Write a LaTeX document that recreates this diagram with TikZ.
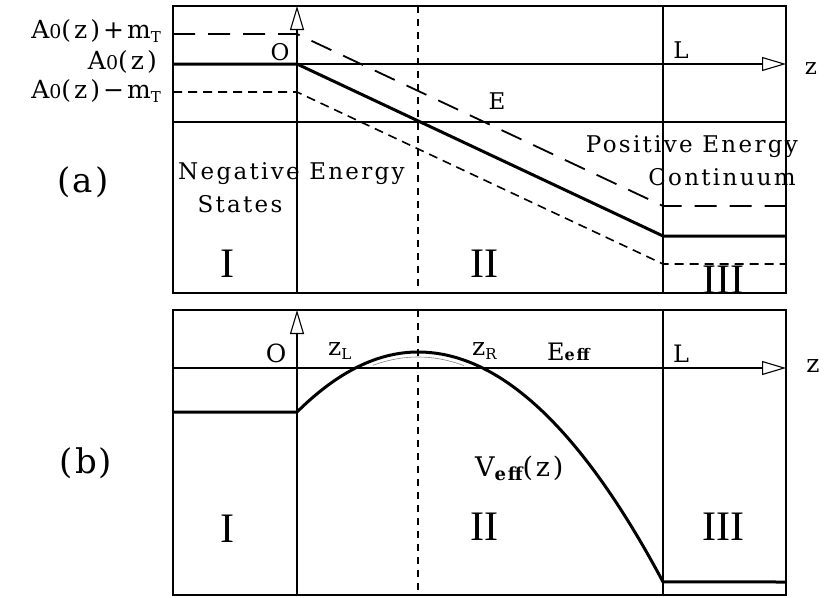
\documentclass[tikz,border=0pt]{standalone}
\usepackage{fontspec}
\setmainfont{DejaVu Serif}[LetterSpace=10]
\newfontfamily\numfont{Liberation Serif}
\usetikzlibrary{arrows.meta}
\newcommand{\Azero}{A{\fontsize{19}{19}\selectfont 0}}
\newcommand{\mysub}[1]{\raisebox{-4pt}{\fontsize{15}{15}\selectfont #1}}
\begin{document}
\begin{tikzpicture}[x=1pt,y=-1pt,
  frame/.style={line width=1.1pt},
  thickline/.style={line width=3pt},
  longdash/.style={line width=1.8pt, dash pattern=on 22pt off 13pt},
  shortdash/.style={line width=1.6pt, dash pattern=on 9pt off 6pt},
  midline/.style={line width=1.4pt, dash pattern=on 7pt off 6pt},
  axisarrow/.style={line width=1.1pt, -{Triangle[open,length=24pt,width=14pt,line width=1.1pt]}},
  lbl/.style={font=\fontsize{23}{26}\selectfont, inner sep=0pt},
  side/.style={font=\fontsize{25}{28}\selectfont\addfontfeature{LetterSpace=12}, inner sep=0pt},
  big/.style={font=\fontsize{34}{36}\selectfont\addfontfeature{LetterSpace=6}, inner sep=0pt},
  roman/.style={font=\numfont\fontsize{42}{44}\selectfont, inner sep=0pt},
]
\useasboundingbox (0,0) rectangle (832,597);
% ---------- panel (a) ----------
\coordinate (aTL) at (173,6);
\coordinate (aBR) at (786,293);
\draw[frame] (aTL) rectangle (aBR);
\coordinate (aAx0) at (297,293);
\coordinate (aAx1) at (297,6);
\draw[axisarrow] (aAx0) -- (aAx1);
\coordinate (aZ0) at (173,64);
\coordinate (aZ1) at (786,64);
\draw[axisarrow] (aZ0) -- (aZ1);
\draw[frame] (173,122) -- (786,122);
\draw[frame] (663,6) -- (663,293);
\draw[midline] (418,6) -- (418,293);
\draw[longdash] (173,34) -- (297,34) -- (663,206) -- (786,206);
\draw[shortdash] (173,92) -- (297,92) -- (663,264) -- (786,264);
\draw[thickline] (173,64) -- (297,64) -- (663,236) -- (786,236);

\node[side, anchor=base east] (t1) at (161,38) {\Azero(z)+m\mysub{T}};
\node[side, anchor=base east] (t2) at (157,69) {\Azero(z)};
\node[side, anchor=base east] (t3) at (161,98) {\Azero(z)−m\mysub{T}};
\node[lbl, anchor=base] (o1) at (280,60) {O};
\node[lbl, anchor=base] (L1) at (681,58) {L};
\node[lbl, anchor=base] (z1) at (811,74) {z};
\node[lbl, anchor=base] (E1) at (497,109) {E};
\node[big] (pa) at (83,182) {(a)};
\node[lbl, anchor=base west] (neg) at (178,179) {Negative Energy};
\node[lbl, anchor=base] (states) at (240,212) {States};
\node[lbl, anchor=base east] (pos) at (798,152) {Positive Energy};
\node[lbl, anchor=base east] (cont) at (796,185) {Continuum};
\node[roman, anchor=base] (I1) at (227,277) {I};
\node[roman, anchor=base] (II1) at (484,277) {II};
\node[roman, anchor=base] (III1) at (723,293) {III};

% ---------- panel (b) ----------
\coordinate (bTL) at (173,310);
\coordinate (bBR) at (786,595);
\draw[frame] (bTL) rectangle (bBR);
\coordinate (bAx0) at (297,595);
\coordinate (bAx1) at (297,310);
\draw[axisarrow] (bAx0) -- (bAx1);
\coordinate (bZ0) at (173,368);
\coordinate (bZ1) at (786,368);
\draw[axisarrow] (bZ0) -- (bZ1);
\draw[frame] (663,310) -- (663,595);
\draw[midline] (418,310) -- (418,595);
\draw[line width=0.6pt, gray] plot[domain=373:464, samples=30] (\x,{357+41*((\x-418)/100)^2});
\draw[thickline, line join=round] (173,412) -- (297,412)
  -- plot[domain=297:418, samples=40] (\x,{352+41*((\x-418)/100)^2})
  -- plot[domain=418:663, samples=70] (\x,{352+38.3*((\x-418)/100)^2})
  -- (786,582);

\node[lbl, anchor=base, font=\fontsize{25}{28}\selectfont] (o2) at (276,362) {O};
\node[lbl, anchor=base west, font=\fontsize{25}{28}\selectfont] (zL) at (328,355) {z\mysub{L}};
\node[lbl, anchor=base west, font=\fontsize{25}{28}\selectfont] (zR) at (472,355) {z\mysub{R}};
\node[lbl, anchor=base west, font=\fontsize{24}{26}\selectfont] (Eeff) at (547,360) {E{\fontsize{16}{16}\selectfont\bfseries eff}};
\node[lbl, anchor=base, font=\fontsize{24}{26}\selectfont] (L2) at (681,362) {L};
\node[lbl, anchor=base, font=\fontsize{25}{28}\selectfont] (z2) at (813,372) {z};
\node[big] (pb) at (86,463) {(b)};
\node[lbl, anchor=base west, font=\fontsize{27}{30}\selectfont] (Veff) at (475,476) {V\raisebox{-4pt}{\fontsize{18}{18}\selectfont\bfseries eff}(z)};
\node[roman, anchor=base] (I2) at (227,542) {I};
\node[roman, anchor=base] (II2) at (484,540) {II};
\node[roman, anchor=base] (III2) at (723,540) {III};
\end{tikzpicture}
\end{document}
